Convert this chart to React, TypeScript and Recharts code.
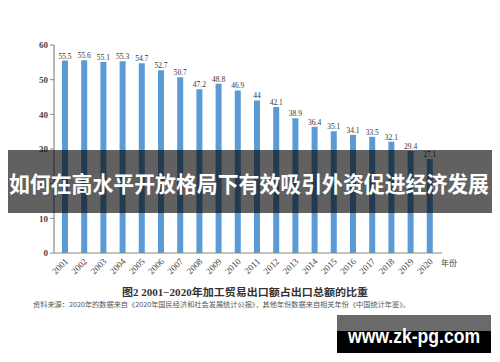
import React from "react";
import { BarChart, Bar, XAxis, YAxis, LabelList } from "recharts";

const years = ["2001","2002","2003","2004","2005","2006","2007","2008","2009","2010","2011","2012","2013","2014","2015","2016","2017","2018","2019","2020"];
const shares = [55.5,55.6,55.1,55.3,54.7,52.7,50.7,47.2,48.8,46.9,44,42.1,38.9,36.4,35.1,34.1,33.5,32.1,29.4,27.1];
const yTicks = [0,10,20,30,40,50,60];

const title = "如何在高水平开放格局下有效吸引外资促进经济发展";
const caption = "图2  2001−2020年加工贸易出口额占出口总额的比重";
const source = "资料来源：2020年的数据来自《2020年国民经济和社会发展统计公报》，其他年份数据来自相关年份《中国统计年鉴》。";
const xUnit = "年份";
const watermark = "www.zk-pg.com";

const data = years.map((y, i) => ({ year: y, value: shares[i] }));

const SERIF = "'Liberation Serif', 'Times New Roman', 'Noto Sans CJK SC', serif";
const CJK = "'Noto Sans CJK SC', sans-serif";

const XTick = (props: any) => {
  const { x, y, payload } = props;
  const ax = x + 4;
  const ay = y + 9;
  return (
    <text
      x={ax}
      y={ay}
      transform={`rotate(-45 ${ax} ${ay})`}
      textAnchor="end"
      fontSize={9}
      fill="#444"
      fontFamily={SERIF}
    >
      {payload.value}
    </text>
  );
};

export default function App() {
  return (
    <div style={{ position: "relative", width: 500, height: 362, background: "#fff" }}>
      <style>{`body{margin:0}`}</style>
      <BarChart
        width={500}
        height={362}
        data={data}
        margin={{ top: 45, right: 58, bottom: 79, left: 0 }}
        barCategoryGap={0}
      >
        <XAxis
          dataKey="year"
          height={30}
          interval={0}
          tickSize={0}
          tickMargin={0}
          tick={<XTick />}
          axisLine={{ stroke: "#888", strokeWidth: 1.2 }}
          tickLine={false}
          padding={{ left: 1, right: 3 }}
        />
        <YAxis
          width={54}
          domain={[0, 60]}
          ticks={yTicks}
          interval={0}
          tickSize={4}
          tickMargin={2}
          axisLine={{ stroke: "#888", strokeWidth: 1.2 }}
          tickLine={{ stroke: "#888" }}
          tick={{ fontSize: 9, fill: "#444", fontFamily: SERIF, fontWeight: "bold" }}
        />
        <Bar dataKey="value" fill="#5b9bd5" barSize={6} isAnimationActive={false}>
          <LabelList
            dataKey="value"
            position="top"
            offset={2}
            style={{ fontSize: 7.5, fill: "#333", fontFamily: SERIF }}
          />
        </Bar>
      </BarChart>
      <svg
        width={500}
        height={362}
        style={{ position: "absolute", left: 0, top: 0, pointerEvents: "none" }}
      >
        <text x={441} y={266} fontSize={8} fill="#444" fontFamily={CJK}>{xUnit}</text>
        <rect x={8} y={150} width={484} height={63} fill="rgba(0,0,0,0.62)" />
        <text
          x={249}
          y={192}
          textAnchor="middle"
          fontSize={22}
          fontWeight="bold"
          fill="#fff"
          fontFamily={CJK}
          textLength={480}
          lengthAdjust="spacingAndGlyphs"
        >
          {title}
        </text>
        <text
          x={245}
          y={296}
          textAnchor="middle"
          fontSize={10.5}
          fontWeight="bold"
          fill="#333"
          fontFamily={SERIF}
          textLength={246}
          lengthAdjust="spacingAndGlyphs"
        >
          {caption}
        </text>
        <text
          x={33}
          y={306.5}
          fontSize={6.5}
          fill="#555"
          fontFamily={CJK}
          textLength={377}
          lengthAdjust="spacingAndGlyphs"
        >
          {source}
        </text>
        <rect x={337} y={315} width={154} height={16} fill="#6a6a6a" />
        <rect x={337} y={331} width={154} height={22} fill="#000" />
        <text
          x={414}
          y={343}
          textAnchor="middle"
          fontSize={20}
          fontWeight="bold"
          fill="#fff"
          fontFamily="'Liberation Sans', Arial, sans-serif"
          textLength={132}
          lengthAdjust="spacingAndGlyphs"
        >
          {watermark}
        </text>
      </svg>
    </div>
  );
}
